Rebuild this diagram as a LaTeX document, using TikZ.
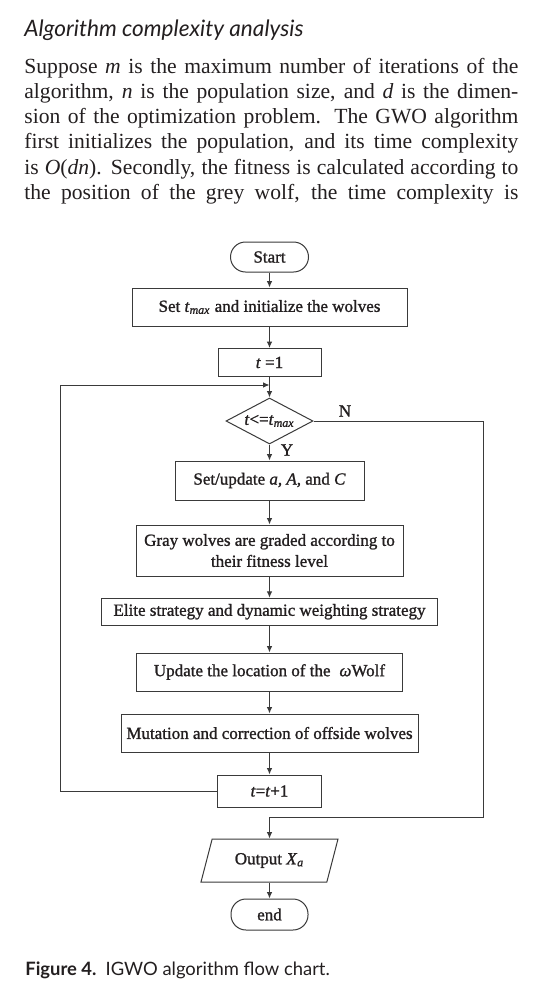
\documentclass[tikz,border=0pt]{standalone}
\usepackage{fontspec}
\setmainfont{Liberation Serif}
\newfontfamily\gill{Lato}
\newfontfamily\chartfont{Liberation Serif}[FakeBold=1.2, ItalicFont={Liberation Serif Italic}, ItalicFeatures={FakeBold=1.2}]
\usetikzlibrary{arrows.meta,positioning,shapes.geometric}
\definecolor{ink}{HTML}{231F20}
\definecolor{edge}{HTML}{3A3A3A}
\tikzset{
  box/.style={draw=edge, line width=0.5pt, rectangle, align=center, inner sep=2pt, text=ink, font=\chartfont\fontsize{8.5}{10.5}\selectfont},
  term/.style={box, rounded corners=7.5pt, minimum width=39pt, minimum height=15pt},
  proc/.style={box, minimum height=19pt},
  cond/.style={box, diamond, aspect=1.9, inner sep=0pt, minimum width=43.5pt, minimum height=23pt},
  io/.style={box, trapezium, trapezium left angle=64, trapezium right angle=116, trapezium stretches body, minimum width=68.5pt, minimum height=21.5pt},
  arr/.style={-{Latex[length=3.2pt,width=2.8pt]}, draw=edge, line width=0.5pt},
  lbl/.style={font=\chartfont\fontsize{8.5}{10}\selectfont, text=ink, inner sep=0pt},
  txt/.style={anchor=base west, inner sep=0pt, text=ink}
}

\begin{document}
\begin{tikzpicture}[x=0.5pt, y=-0.5pt]
\fill[white] (0,0) rectangle (540,985);
\useasboundingbox (0,0) rectangle (540,985);
% text above and below the chart
\node[txt, font=\gill\itshape\fontsize{11.3}{13}\selectfont] (head) at (24,36) {Algorithm complexity analysis};
\node[txt, text width=247pt, align=justify, font=\fontsize{10.8}{12.65}\selectfont] (para) at (24,73) {%
Suppose \textit{m} is the maximum number of iterations of the\linebreak
algorithm, \textit{n} is the population size, and \textit{d} is the dimen-\linebreak
sion of the optimization problem. The GWO algorithm\linebreak
first initializes the population, and its time complexity\linebreak
is \textit{O}(\textit{dn}). Secondly, the fitness is calculated according to\linebreak
the position of the grey wolf, the time complexity is\parfillskip=0pt\par};
\node[txt, font=\gill\fontsize{9.2}{11}\selectfont] (cap) at (25,975) {\textbf{Figure 4.}\enskip IGWO algorithm flow chart.};
% flow chart
\node[term] (st) at (269.5,257) {Start};
\node[proc, minimum width=137.5pt] (init) at (269.5,307) {Set \textit{t}\textsubscript{\textit{max}} and initialize the wolves};
\node[proc, minimum width=51.5pt, minimum height=14pt] (t1) at (269.5,362.5) {\textit{t} =1};
\node[cond] (tst) at (269.5,421) {\textit{t}<=\textit{t}\textsubscript{\textit{max}}};
\node[proc, minimum width=94.5pt, minimum height=19.5pt] (upd) at (269.5,480.5) {Set/update \textit{a, A,} and \textit{C}};
\node[proc, minimum width=133.5pt, minimum height=25.5pt] (grade) at (269.5,550.5) {Gray wolves are graded according to\\their fitness level};
\node[proc, minimum width=168pt, minimum height=13.5pt] (elite) at (269.5,611.7) {Elite strategy and dynamic weighting strategy};
\node[proc, minimum width=133pt] (omg) at (269.5,672) {Update the location of the\; \textit{ω}Wolf};
\node[proc, minimum width=148.5pt] (mut) at (269.5,733) {Mutation and correction of offside wolves};
\node[proc, minimum width=52pt, minimum height=16pt] (inc) at (269.5,791) {\textit{t}=\textit{t}+1};
\node[io] (out) at (269.5,860.5) {Output \textit{X}\textsubscript{\textit{a}}};
\node[term, minimum width=38.5pt, minimum height=15.5pt] (fin) at (269.5,914.5) {end};
\node[lbl] (ny) at (345,411) {N};
\node[lbl] (yy) at (287,450) {Y};
\coordinate (jn) at (269.5,385);
\coordinate (lc) at (60,385);
\coordinate (rc) at (483,817);
\draw[arr] (st) -- (init);
\draw[arr] (init) -- (t1);
\draw[arr] (t1) -- (tst);
\draw[arr] (tst) -- (upd);
\draw[arr] (upd) -- (grade);
\draw[arr] (grade) -- (elite);
\draw[arr] (elite) -- (omg);
\draw[arr] (omg) -- (mut);
\draw[arr] (mut) -- (inc);
\draw[arr] (inc.west) -| (lc) -- (jn);
\draw[arr] (tst.east) -| (rc) -| (out.north);
\draw[arr] (out) -- (fin);
\end{tikzpicture}
\end{document}
